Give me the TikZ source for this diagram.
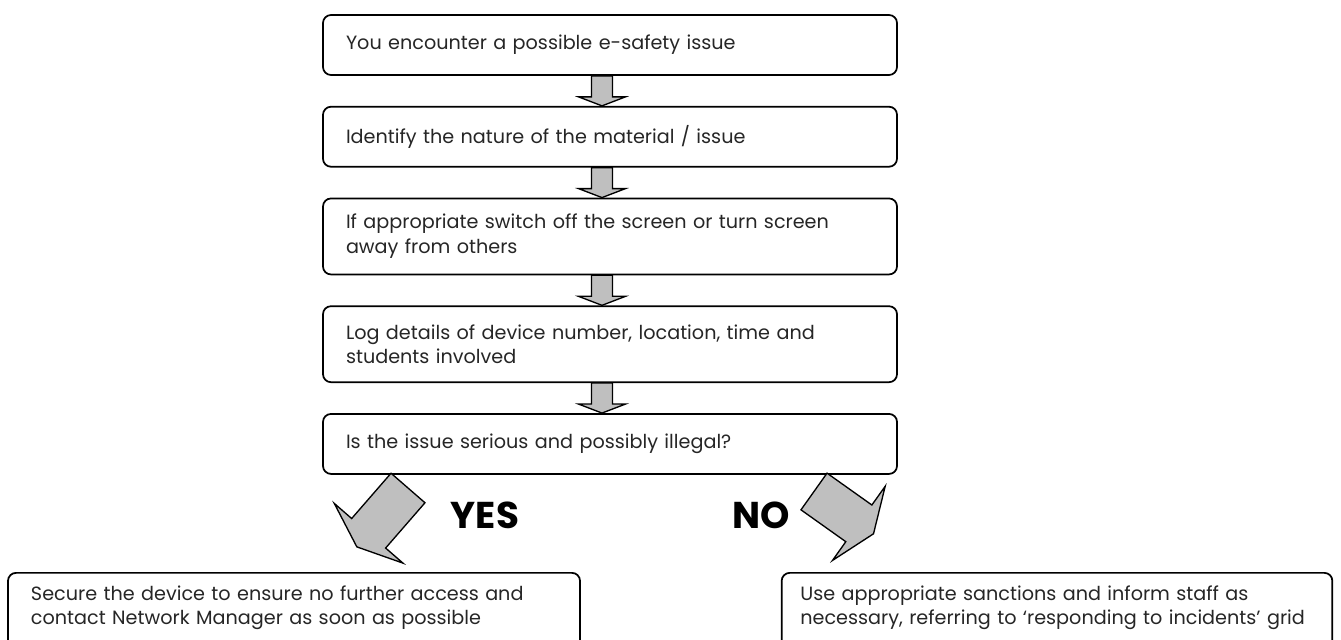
\documentclass[tikz,border=0pt]{standalone}
\usepackage{fontspec}
\setmainfont{Poppins}
\usetikzlibrary{positioning,calc}
\tikzset{
  % flowchart step box
  stepbox/.style = {rectangle, rounded corners=6pt, draw=black, line width=1.3pt,
                    fill=white, align=left, text width=396pt, inner xsep=17.25pt,
                    inner ysep=0pt, minimum height=45pt, text=black!85,
                    font=\fontsize{14.4}{18.5}\selectfont},
  % outcome box at the foot (runs off the page)
  endbox/.style  = {stepbox, anchor=north, inner ysep=9.5pt, text depth=40pt},
  % grey block arrows
  smallarr/.style = {draw=black, line width=1pt, fill=black!25, line join=miter},
  bigarr/.style   = {draw=black, line width=1pt, fill=black!25, line join=miter},
  % YES / NO words
  answer/.style  = {font=\fontsize{28}{28}\bfseries\selectfont, inner sep=0pt},
}

\begin{document}
\begin{tikzpicture}[x=0.75pt, y=0.75pt, node distance=22.5pt]
  \useasboundingbox (0,0) rectangle (1341,639);
  \clip (0,0) rectangle (1341,639);

  \node[stepbox] (enc) at (610,594) {You encounter a possible e-safety issue};
  \node[stepbox, below=of enc] (ident) {Identify the nature of the material / issue};
  \node[stepbox, below=of ident, minimum height=57pt] (switch)
       {If appropriate switch off the screen or turn screen\\away from others};
  \node[stepbox, below=of switch, minimum height=57pt] (logd)
       {Log details of device number, location, time and\\students involved};
  \node[stepbox, below=of logd] (serious) {Is the issue serious and possibly illegal?};

  % outcomes
  \node[endbox, text width=394.5pt] (secure) at (294,67)
       {Secure the device to ensure no further access and\\contact Network Manager as soon as possible};
  \node[endbox, text width=385pt, inner xsep=14pt] (sanct) at (1057,67)
       {Use appropriate sanctions and inform staff as\\necessary, referring to `responding to incidents' grid};

  % small down arrows between the steps
  \foreach \a/\b in {enc/ident, ident/switch, switch/logd, logd/serious} {
    \draw[smallarr] ($(\a.south)+(-18.5,0)$) -- ($(\b.north)+(-18.5,9)$)
      -- ($(\b.north)+(-31.5,9)$) -- ($(\b.north)+(-8,0)$)
      -- ($(\b.north)+(15.5,9)$) -- ($(\b.north)+(2.5,9)$)
      -- ($(\a.south)+(2.5,0)$) -- cycle;
  }

  % big arrows to the outcomes (flat heads)
  \coordinate (yesback) at (408,151);
  \coordinate (noback) at (814,147.5);
  \begin{scope}[shift={(yesback)}, rotate=229]
    \draw[bigarr] (0,-22.5) -- (60,-22.5) -- (60,-45.5) -- (78,0)
      -- (60,45.5) -- (60,22.5) -- (0,22.5) -- cycle;
  \end{scope}
  \begin{scope}[shift={(noback)}, rotate=-35.4]
    \draw[bigarr] (0,-22.5) -- (55,-22.5) -- (55,-45.5) -- (73,0)
      -- (55,45.5) -- (55,22.5) -- (0,22.5) -- cycle;
  \end{scope}

  \node[answer] (yes) at (485,124) {YES};
  \node[answer] (no) at (761.5,124) {NO};
\end{tikzpicture}
\end{document}
